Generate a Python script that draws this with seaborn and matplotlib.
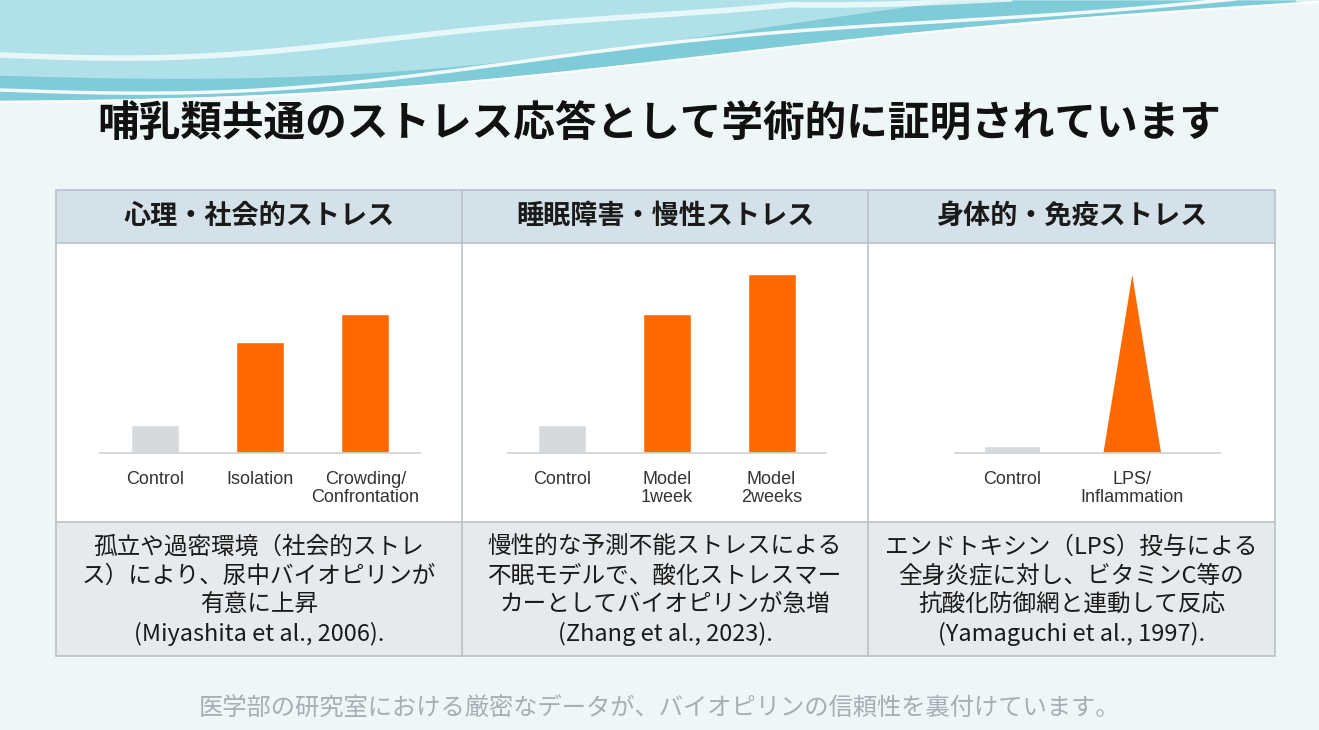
import numpy as np
import pandas as pd
import matplotlib
matplotlib.use("Agg")
import matplotlib.pyplot as plt
import seaborn as sns
from matplotlib.patches import Rectangle

sns.set_theme(style="white")
plt.rcParams['font.family'] = ['Noto Sans CJK JP', 'DejaVu Sans']

title = "哺乳類共通のストレス応答として学術的に証明されています"
headers = ["心理・社会的ストレス", "睡眠障害・慢性ストレス", "身体的・免疫ストレス"]
cats1 = ["Control", "Isolation", "Crowding/\nConfrontation"]
vals1 = [28, 111, 139]
cats2 = ["Control", "Model\n1week", "Model\n2weeks"]
vals2 = [28, 139, 179]
cats3 = ["Control", "LPS/\nInflammation"]
vals3 = [7, 178]
notes = ["孤立や過密環境（社会的ストレ\nス）により、尿中バイオピリンが\n有意に上昇\n(Miyashita et al., 2006).",
         "慢性的な予測不能ストレスによる\n不眠モデルで、酸化ストレスマー\nカーとしてバイオピリンが急増\n(Zhang et al., 2023).",
         "エンドトキシン（LPS）投与による\n全身炎症に対し、ビタミンC等の\n抗酸化防御網と連動して反応\n(Yamaguchi et al., 1997)."]
footer = "医学部の研究室における厳密なデータが、バイオピリンの信頼性を裏付けています。"

W, H = 1319, 730
fig = plt.figure(figsize=(W/100, H/100), dpi=100)
fig.patch.set_facecolor("#eef6f8")

def fx(x): return x / W
def fy(y): return 1 - y / H

# background / waves
bg = fig.add_axes([0, 0, 1, 1], zorder=0)
bg.set_xlim(0, W); bg.set_ylim(H, 0); bg.axis("off")
xs = np.linspace(0, W, 400)
t = xs / W
top = 100 - 60*t - 40*t**2 + 8*np.sin(t*np.pi*2)
bg.fill_between(xs, 0, top, color="#7fcbd8")
bg.fill_between(xs, 0, top - 25 + 10*np.sin(t*np.pi*1.5), color="#b0e1e8")
bg.plot(xs, top - 10 + 6*np.sin(t*np.pi*3), color="white", lw=2.5, alpha=0.9)
bg.plot(xs, top + 2, color="white", lw=1.5, alpha=0.8)
bg.plot(xs, np.maximum(top - 45, 0) + 5*np.sin(t*np.pi*4), color="white", lw=4, alpha=0.7)

# table
L, R = 56, 1275
cols = [56, 462, 868, 1275]
bg.add_patch(Rectangle((L, 190), R-L, 53, facecolor="#d5e1e8", edgecolor="none"))
bg.add_patch(Rectangle((L, 243), R-L, 279, facecolor="white", edgecolor="none"))
bg.add_patch(Rectangle((L, 522), R-L, 134, facecolor="#e6eaec", edgecolor="none"))
bg.add_patch(Rectangle((L, 190), R-L, 466, facecolor="none", edgecolor="#b9c2c8", lw=1.2))
for y in (243, 522):
    bg.plot([L, R], [y, y], color="#b9c2c8", lw=1.2)
for x in cols[1:3]:
    bg.plot([x, x], [190, 656], color="#b9c2c8", lw=1.2)

fig.text(0.5, fy(125), title, ha="center", va="center", fontsize=30, fontweight="bold", color="#111111")
for i, h in enumerate(headers):
    cx = (cols[i] + cols[i+1]) / 2
    fig.text(fx(cx), fy(216), h, ha="center", va="center", fontsize=19.5, fontweight="bold", color="#1a1a1a")
    fig.text(fx(cx), fy(591), notes[i], ha="center", va="center", fontsize=17, color="#1a1a1a", linespacing=1.3)
fig.text(0.5, fy(708), footer, ha="center", va="center", fontsize=17.5, color="#a8aeb3")

orange = "#ff6a00"; grey = "#d6dadd"
panels = [
    (cats1, vals1, 100, 420, -0.52, 2.52, 0.46),
    (cats2, vals2, 508, 826, -0.52, 2.52, 0.46),
    (cats3, vals3, 955, 1220, -0.475, 1.73, 0.46),
]
for k, (cats, vals, x0, x1, lo, hi, bw) in enumerate(panels):
    ax = fig.add_axes([fx(x0), fy(453), (x1-x0)/W, 200/H], zorder=2)
    ax.patch.set_alpha(0)
    df = pd.DataFrame({"cat": cats, "val": vals})
    pal = [grey] + [orange]*(len(cats)-1)
    if k < 2:
        sns.barplot(data=df, x="cat", y="val", hue="cat", palette=pal, width=bw, legend=False, ax=ax, saturation=1)
    else:
        sns.barplot(data=df.iloc[:1], x="cat", y="val", color=grey, width=bw, ax=ax, saturation=1)
        ax.fill([1-0.24, 1, 1+0.24], [0, vals[1], 0], color=orange, lw=0)
        ax.set_xticks(range(len(cats)))
    ax.set_xticklabels(cats, fontsize=13, color="#333333", linespacing=1.1,
                       family=['Liberation Sans', 'DejaVu Sans'])
    ax.set_xlim(lo, hi); ax.set_ylim(0, 200)
    ax.set_yticks([]); ax.set_xlabel(""); ax.set_ylabel("")
    for s in ["top", "left", "right"]:
        ax.spines[s].set_visible(False)
    ax.spines["bottom"].set_color("#d0d4d7")
    ax.tick_params(axis="x", length=0, pad=13)

fig.savefig("out.png", dpi=100, facecolor=fig.get_facecolor())
